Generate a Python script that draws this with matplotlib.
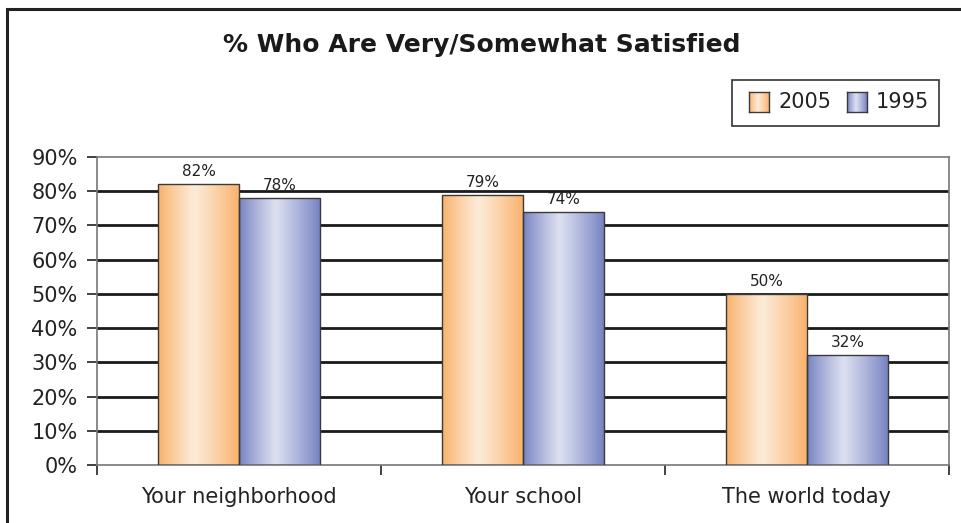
import matplotlib.pyplot as plt
import numpy as np
from matplotlib.patches import Rectangle
from matplotlib.ticker import FixedLocator, PercentFormatter

categories = ['Your neighborhood', 'Your school', 'The world today']
series_names = ['2005', '1995']
values_2005 = [82, 79, 50]
values_1995 = [78, 74, 32]
y_ticks = [0, 10, 20, 30, 40, 50, 60, 70, 80, 90]

orange_edge = np.array([249, 178, 108]) / 255
orange_mid = np.array([253, 236, 218]) / 255
blue_edge = np.array([118, 131, 194]) / 255
blue_mid = np.array([222, 225, 241]) / 255


def gradient(edge, mid, n=64, peak=0.45):
    # horizontal shading: darker at the sides, lightest just left of centre
    t = np.linspace(0, 1, n)
    w = np.where(t < peak, t / peak, (1 - t) / (1 - peak))
    w = np.clip(w, 0, 1) ** 0.9
    cols = edge[None, :] * (1 - w[:, None]) + mid[None, :] * w[:, None]
    return cols[None, :, :]


fig = plt.figure(figsize=(9.61, 5.23), dpi=100)
fig.patch.set_facecolor('white')

# outer frame around the chart
fig.add_artist(Rectangle((7 / 961, -0.05), 1.1, 1 - 9 / 523 + 0.05,
                         transform=fig.transFigure, fill=False,
                         edgecolor='#222222', linewidth=2.2))

ax = fig.add_axes([97 / 961, 58 / 523, 852 / 961, 308 / 523])

x = np.arange(len(categories))
width = 0.285
grads = [gradient(orange_edge, orange_mid), gradient(blue_edge, blue_mid)]

for k, vals in enumerate([values_2005, values_1995]):
    offs = (k - 0.5) * width
    bars = ax.bar(x + offs, vals, width, color='none', edgecolor='#3a3a3a',
                  linewidth=1.0, zorder=3)
    for b, v in zip(bars, vals):
        x0 = b.get_x()
        im = ax.imshow(grads[k], extent=[x0, x0 + width, 0, v], aspect='auto',
                       interpolation='bicubic', zorder=2)
        im.set_clip_path(b)
        ax.text(x0 + width / 2, v + 1.5, f'{v}%', ha='center', va='bottom',
                fontsize=11, color='#222222', zorder=4)

ax.set_xlim(-0.5, 2.5)
ax.set_ylim(0, 90)

ax.yaxis.set_major_locator(FixedLocator(y_ticks))
ax.yaxis.set_major_formatter(PercentFormatter(decimals=0))
ax.tick_params(axis='y', length=7, width=1.2, color='#222222', pad=7,
               labelsize=15, labelcolor='#222222')

ax.set_xticks(x)
ax.set_xticklabels(categories)
ax.tick_params(axis='x', length=0, pad=16, labelsize=15, labelcolor='#222222')
ax.set_xticks([-0.5, 0.5, 1.5, 2.5], minor=True)
ax.tick_params(axis='x', which='minor', length=7, width=1.2, color='#222222')

for yv in y_ticks[1:-1]:
    ax.axhline(yv, color='#1a1a1a', linewidth=2.0, zorder=1)

for s in ax.spines.values():
    s.set_color('#777777')
    s.set_linewidth(1.2)

fig.text(482 / 961, 1 - 45 / 523, '% Who Are Very/Somewhat Satisfied',
         ha='center', va='center', fontsize=18, fontweight='bold',
         color='#1a1a1a')

# legend drawn by hand so the swatches can carry the same shading
fig.add_artist(Rectangle((732 / 961, 1 - 126 / 523), 207 / 961, 46 / 523,
                         transform=fig.transFigure, fill=False,
                         edgecolor='#333333', linewidth=1.2))
swatch_x = [749, 847]
for name, sx, g in zip(series_names, swatch_x, grads):
    sax = fig.add_axes([sx / 961, 1 - 112 / 523, 20 / 961, 20 / 523])
    sax.imshow(g, aspect='auto', interpolation='bicubic')
    sax.set_xticks([])
    sax.set_yticks([])
    for s in sax.spines.values():
        s.set_color('#3a3a3a')
        s.set_linewidth(1.0)
    fig.text((sx + 29) / 961, 1 - 102 / 523, name, ha='left', va='center',
             fontsize=15, color='#222222')

fig.savefig('out.png', dpi=100)
